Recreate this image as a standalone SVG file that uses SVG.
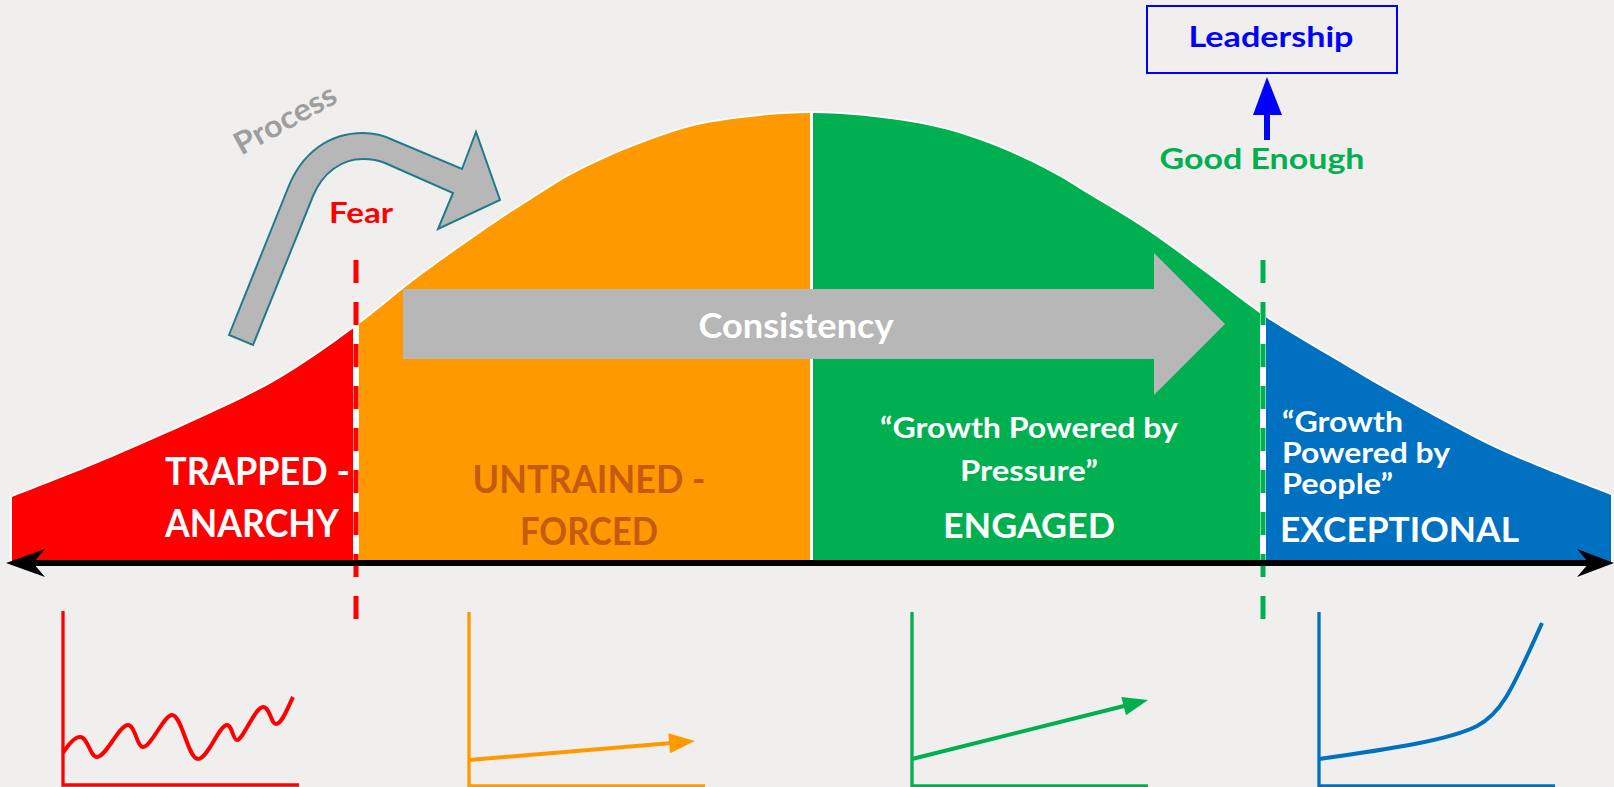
<svg xmlns="http://www.w3.org/2000/svg" width="1614" height="787" viewBox="0 0 1614 787">
  <defs>
    <style>
      .lbl { font-family: Lato, "Open Sans", "Liberation Sans", sans-serif; font-weight: 700; }
      .white { fill: #FFFFFF; }
      .chart-axis { fill: none; stroke-width: 3.3; stroke-linecap: butt; }
      .chart-line { fill: none; stroke-width: 4; stroke-linecap: butt; stroke-linejoin: round; }
      .divider { stroke-width: 5; stroke-dasharray: 23 19; fill: none; }
    </style>
    <!-- bell curve outline, reused for every coloured band -->
    <path id="bell" d="M12,497 C26.7,491.2 68.7,475.2 100,462 C131.3,448.8 170,432 200,418 C230,404 254.2,393.2 280,378 C305.8,362.8 332.8,343.2 355,327 C377.2,310.8 392.2,296.7 413,281 C433.8,265.3 460.5,246.5 480,233 C499.5,219.5 513.3,210.5 530,200 C546.7,189.5 560.5,179.8 580,170 C599.5,160.2 624.8,149 647,141 C669.2,133 685.5,126.7 713,122 C740.5,117.3 779,113 812,113 C845,113 883,117.5 911,122 C939,126.5 957.8,132.3 980,140 C1002.2,147.7 1025.7,158.8 1044,168 C1062.3,177.2 1072.8,184.7 1090,195 C1107.2,205.3 1127.8,217.2 1147,230 C1166.2,242.8 1185,257.3 1205,272 C1225,286.7 1245.7,303.7 1267,318 C1288.3,332.3 1310.8,344.8 1333,358 C1355.2,371.2 1372.2,381.7 1400,397 C1427.8,412.3 1464.8,433.7 1500,450 C1535.2,466.3 1592.5,487.5 1611,495 L1611,563 L12,563 Z"/>
    <clipPath id="clip-red"><rect x="0" y="0" width="353" height="787"/></clipPath>
    <clipPath id="clip-orange"><rect x="359" y="0" width="451" height="787"/></clipPath>
    <clipPath id="clip-green"><rect x="813" y="0" width="447" height="787"/></clipPath>
    <clipPath id="clip-blue"><rect x="1266" y="0" width="348" height="787"/></clipPath>
  </defs>

  <rect x="0" y="0" width="1614" height="787" fill="#F0EFED"/>

  <!-- bell curve bands -->
  <g id="bell-curve">
    <use href="#bell" fill="#FFFFFF" stroke="#FFFFFF" stroke-width="3.5"/>
    <use href="#bell" fill="#FF0000" clip-path="url(#clip-red)"/>
    <use href="#bell" fill="#FF9900" clip-path="url(#clip-orange)"/>
    <use href="#bell" fill="#00B050" clip-path="url(#clip-green)"/>
    <use href="#bell" fill="#0070C0" clip-path="url(#clip-blue)"/>
  </g>

  <!-- consistency arrow across the middle bands -->
  <g id="consistency">
    <polygon points="403,289 1154,289 1154,253 1225,324 1154,395 1154,359 403,359" fill="#B7B7B7"/>
    <text class="lbl white" x="796" y="338" font-size="35" text-anchor="middle" textLength="195" lengthAdjust="spacingAndGlyphs">Consistency</text>
  </g>

  <!-- band labels -->
  <g id="trapped">
    <text class="lbl white" x="165" y="485" font-size="38" textLength="185" lengthAdjust="spacingAndGlyphs">TRAPPED -</text>
    <text class="lbl white" x="165" y="537" font-size="38" textLength="174" lengthAdjust="spacingAndGlyphs">ANARCHY</text>
  </g>
  <g id="untrained">
    <text class="lbl" fill="#C55A11" x="589" y="493" font-size="39" text-anchor="middle" textLength="233" lengthAdjust="spacingAndGlyphs">UNTRAINED -</text>
    <text class="lbl" fill="#C55A11" x="589" y="545" font-size="39" text-anchor="middle" textLength="138" lengthAdjust="spacingAndGlyphs">FORCED</text>
  </g>
  <g id="engaged">
    <text class="lbl white" x="1029" y="438" font-size="29" text-anchor="middle" textLength="298" lengthAdjust="spacingAndGlyphs">“Growth Powered by</text>
    <text class="lbl white" x="1029" y="481" font-size="29" text-anchor="middle" textLength="138" lengthAdjust="spacingAndGlyphs">Pressure”</text>
    <text class="lbl white" x="1029" y="538" font-size="34" text-anchor="middle" textLength="172" lengthAdjust="spacingAndGlyphs">ENGAGED</text>
  </g>
  <g id="exceptional">
    <text class="lbl white" x="1282" y="432" font-size="28" textLength="121" lengthAdjust="spacingAndGlyphs">“Growth</text>
    <text class="lbl white" x="1282" y="463" font-size="28" textLength="168" lengthAdjust="spacingAndGlyphs">Powered by</text>
    <text class="lbl white" x="1282" y="494" font-size="28" textLength="111" lengthAdjust="spacingAndGlyphs">People”</text>
    <text class="lbl white" x="1280" y="542" font-size="35" textLength="239" lengthAdjust="spacingAndGlyphs">EXCEPTIONAL</text>
  </g>

  <!-- process arrow -->
  <g id="process">
    <path d="M229,335 L288,188 C302,152 330,133 363,133 C375,133 385,136 393,140 L462,169 L476,132 L500,200 L438,229 L453,193 L385,163 C378,160 370,159 363,159 C342,159 323,172 313,196 L253,345 Z" fill="#B7B7B7" stroke="#227A8D" stroke-width="2" stroke-linejoin="miter"/>
    <text class="lbl" fill="#9E9E9E" font-size="31" text-anchor="middle" textLength="112" lengthAdjust="spacingAndGlyphs" transform="translate(285,119) rotate(-29)" x="0" y="11">Process</text>
  </g>

  <g id="fear">
    <text class="lbl" fill="#FF0000" x="329" y="223" font-size="29" textLength="64" lengthAdjust="spacingAndGlyphs">Fear</text>
  </g>

  <g id="good-enough">
    <text class="lbl" fill="#00B050" x="1262" y="169" font-size="28" text-anchor="middle" textLength="205" lengthAdjust="spacingAndGlyphs">Good Enough</text>
  </g>

  <g id="leadership">
    <rect x="1147" y="6" width="250" height="67" fill="none" stroke="#0000FF" stroke-width="2"/>
    <text class="lbl" fill="#0000FF" x="1271" y="47" font-size="28" text-anchor="middle" textLength="165" lengthAdjust="spacingAndGlyphs">Leadership</text>
  </g>

  <!-- connectors: dividers, axis, upward arrow -->
  <g id="connectors">
    <line class="divider" x1="356" y1="260" x2="356" y2="620" stroke="#FF0000"/>
    <line class="divider" x1="1263" y1="260" x2="1263" y2="620" stroke="#00B050"/>
    <line x1="30" y1="563" x2="1592" y2="563" stroke="#000000" stroke-width="6"/>
    <polygon points="6,563 45,549 33,563 45,577" fill="#000000"/>
    <polygon points="1614,563 1577,549 1589,563 1577,577" fill="#000000"/>
    <rect x="1264" y="114" width="6" height="26" fill="#0000FF"/>
    <polygon points="1253,115 1267,77 1282,115" fill="#0000FF"/>
  </g>

  <!-- small trend charts under each band -->
  <g id="chart-red">
    <polyline class="chart-axis" points="63,611 63,785 299,785" stroke="#FF0000"/>
    <path class="chart-line" stroke="#FF0000" d="M63,753 C70,742 75,737 80,737 C88,737 90,757 97,757 C106,757 119,725 128,725 C135,725 137,747 143,747 C151,747 164,715 172,715 C182,715 188,759 198,759 C208,759 219,725 227,725 C232,725 233,740 237,740 C243,740 255,707 263,707 C270,707 271,724 276,724 C282,724 288,707 293,697"/>
  </g>
  <g id="chart-orange">
    <polyline class="chart-axis" points="469,612 469,786 705,786" stroke="#FF9900"/>
    <line class="chart-line" x1="469" y1="760" x2="672" y2="743" stroke="#FF9900"/>
    <polygon points="695,741 670,753.2 668.3,733.2" fill="#FF9900"/>
  </g>
  <g id="chart-green">
    <polyline class="chart-axis" points="912,612 912,786 1148,786" stroke="#00B050"/>
    <line class="chart-line" x1="912" y1="759" x2="1126" y2="705.5" stroke="#00B050"/>
    <polygon points="1148,700 1126,715.3 1121.4,696.9" fill="#00B050"/>
  </g>
  <g id="chart-blue">
    <polyline class="chart-axis" points="1319,612 1319,786 1555,786" stroke="#0070C0"/>
    <path class="chart-line" stroke="#0070C0" d="M1319,759 C1390,749 1450,740 1477,726 C1500,714 1510,695 1542,623"/>
  </g>
</svg>
